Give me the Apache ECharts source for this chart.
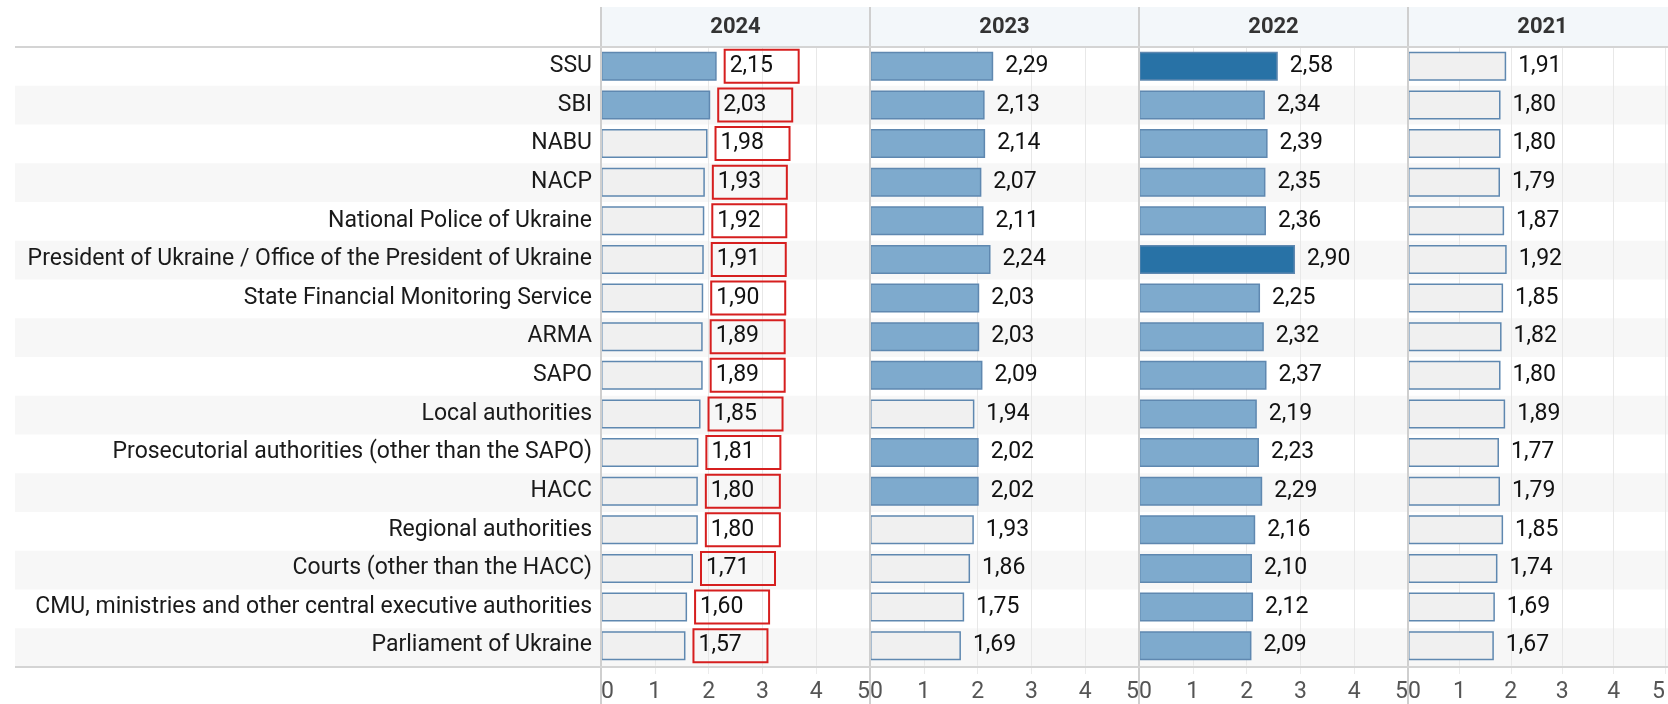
<!DOCTYPE html>
<html>
<head>
<meta charset="utf-8">
<script src="https://cdn.jsdelivr.net/npm/echarts@6/dist/echarts.min.js"></script>
<style>
  html, body { margin: 0; padding: 0; background: #fff; }
  #chart { width: 1668px; height: 704px; }
</style>
</head>
<body>
<div id="chart"></div>
<script>
// categories (top to bottom)
const categories = [
  'SSU', 'SBI', 'NABU', 'NACP', 'National Police of Ukraine',
  'President of Ukraine / Office of the President of Ukraine',
  'State Financial Monitoring Service', 'ARMA', 'SAPO', 'Local authorities',
  'Prosecutorial authorities (other than the SAPO)', 'HACC', 'Regional authorities',
  'Courts (other than the HACC)', 'CMU, ministries and other central executive authorities',
  'Parliament of Ukraine'
];
const years = ['2024', '2023', '2022', '2021'];
const v2024 = [2.15, 2.03, 1.98, 1.93, 1.92, 1.91, 1.90, 1.89, 1.89, 1.85, 1.81, 1.80, 1.80, 1.71, 1.60, 1.57];
const v2023 = [2.29, 2.13, 2.14, 2.07, 2.11, 2.24, 2.03, 2.03, 2.09, 1.94, 2.02, 2.02, 1.93, 1.86, 1.75, 1.69];
const v2022 = [2.58, 2.34, 2.39, 2.35, 2.36, 2.90, 2.25, 2.32, 2.37, 2.19, 2.23, 2.29, 2.16, 2.10, 2.12, 2.09];
const v2021 = [1.91, 1.80, 1.80, 1.79, 1.87, 1.92, 1.85, 1.82, 1.80, 1.89, 1.77, 1.79, 1.85, 1.74, 1.69, 1.67];
const yearValues = [v2024, v2023, v2022, v2021];
const axisTicks = [0, 1, 2, 3, 4, 5];

// layout
const FONT = 'Roboto';
const PANEL_LEFT = 601, PANEL_W = 269, TOP = 47, BOTTOM = 37, H = 704;

function barColor(v) {
  if (v >= 2.5) return '#2872a6';
  if (v >= 2) return '#7eaacd';
  return '#f0f0f0';
}
function fmt(v) { return v.toFixed(2).replace('.', ','); }

let chart = echarts.init(document.getElementById('chart'));

let grids = [{ left: 15, right: 0, top: TOP, bottom: BOTTOM }];
let xAxes = [{ gridIndex: 0, type: 'value', show: false, min: 0, max: 1 }];
let yAxes = [{
  gridIndex: 0, type: 'category', data: categories, inverse: true,
  axisLine: { show: false }, axisTick: { show: false }, axisLabel: { show: false },
  splitArea: { show: true, areaStyle: { color: ['rgba(0,0,0,0)', '#f7f7f7'] } }
}];
let series = [];
let graphics = [{
  type: 'rect', z: -1,
  shape: { x: PANEL_LEFT, y: 7, width: 1668 - PANEL_LEFT, height: TOP - 7 },
  style: { fill: '#f3f7fa' }
}];

years.forEach(function (yr, i) {
  let gi = i + 1;
  let left = PANEL_LEFT + i * PANEL_W;
  grids.push({ left: left, width: PANEL_W, top: TOP, bottom: BOTTOM });
  xAxes.push({
    gridIndex: gi, type: 'value', min: axisTicks[0], max: axisTicks[axisTicks.length - 1], interval: 1,
    axisLine: { show: false },
    axisTick: { show: true, length: 9, lineStyle: { color: '#ececec' } },
    splitLine: { show: true, lineStyle: { color: '#e8e8e8', width: 1 } },
    axisLabel: {
      fontFamily: FONT, fontSize: 23, color: '#555', margin: 16,
      alignMinLabel: 'left', alignMaxLabel: 'right'
    }
  });
  yAxes.push({
    gridIndex: gi, type: 'category', data: categories, inverse: true,
    axisLine: { show: false }, axisTick: { show: false },
    axisLabel: gi === 1 ? { show: true, fontFamily: FONT, fontSize: 23, color: '#1a1a1a', margin: 9 } : { show: false }
  });
  let boxed = i === 0;
  series.push({
    type: 'bar', xAxisIndex: gi, yAxisIndex: gi, barWidth: 29,
    data: yearValues[i],
    itemStyle: {
      color: function (p) { return barColor(p.value); },
      borderColor: '#5f88b0', borderWidth: 1.5
    },
    label: {
      show: true, position: 'right', distance: boxed ? 8 : 12,
      formatter: function (p) { return fmt(p.value); },
      fontFamily: FONT, fontSize: 23, color: '#111',
      align: 'left',
      width: boxed ? 63 : undefined,
      lineHeight: 29,
      padding: boxed ? [2, 6, 2, 5] : 0,
      borderColor: boxed ? '#d61f1f' : 'transparent',
      borderWidth: boxed ? 2 : 0
    }
  });
  graphics.push({
    type: 'text', z: 20,
    x: left + PANEL_W / 2, y: 27,
    style: {
      text: yr, fontFamily: FONT, fontSize: 22, fontWeight: 'bold', fill: '#333',
      align: 'center', verticalAlign: 'middle'
    }
  });
  graphics.push({
    type: 'line', z: 20,
    shape: { x1: left, y1: 7, x2: left, y2: H },
    style: { stroke: '#cfcfcf', lineWidth: 2 }
  });
});

graphics.push({
  type: 'line', z: 20,
  shape: { x1: 15, y1: TOP, x2: 1668, y2: TOP },
  style: { stroke: '#d4d4d4', lineWidth: 2 }
});
graphics.push({
  type: 'line', z: 20,
  shape: { x1: 15, y1: H - BOTTOM, x2: 1668, y2: H - BOTTOM },
  style: { stroke: '#d4d4d4', lineWidth: 2 }
});

let option = {
  animation: false,
  textStyle: { fontFamily: FONT },
  grid: grids,
  xAxis: xAxes,
  yAxis: yAxes,
  series: series,
  graphic: graphics
};
chart.setOption(option);
</script>
</body>
</html>
